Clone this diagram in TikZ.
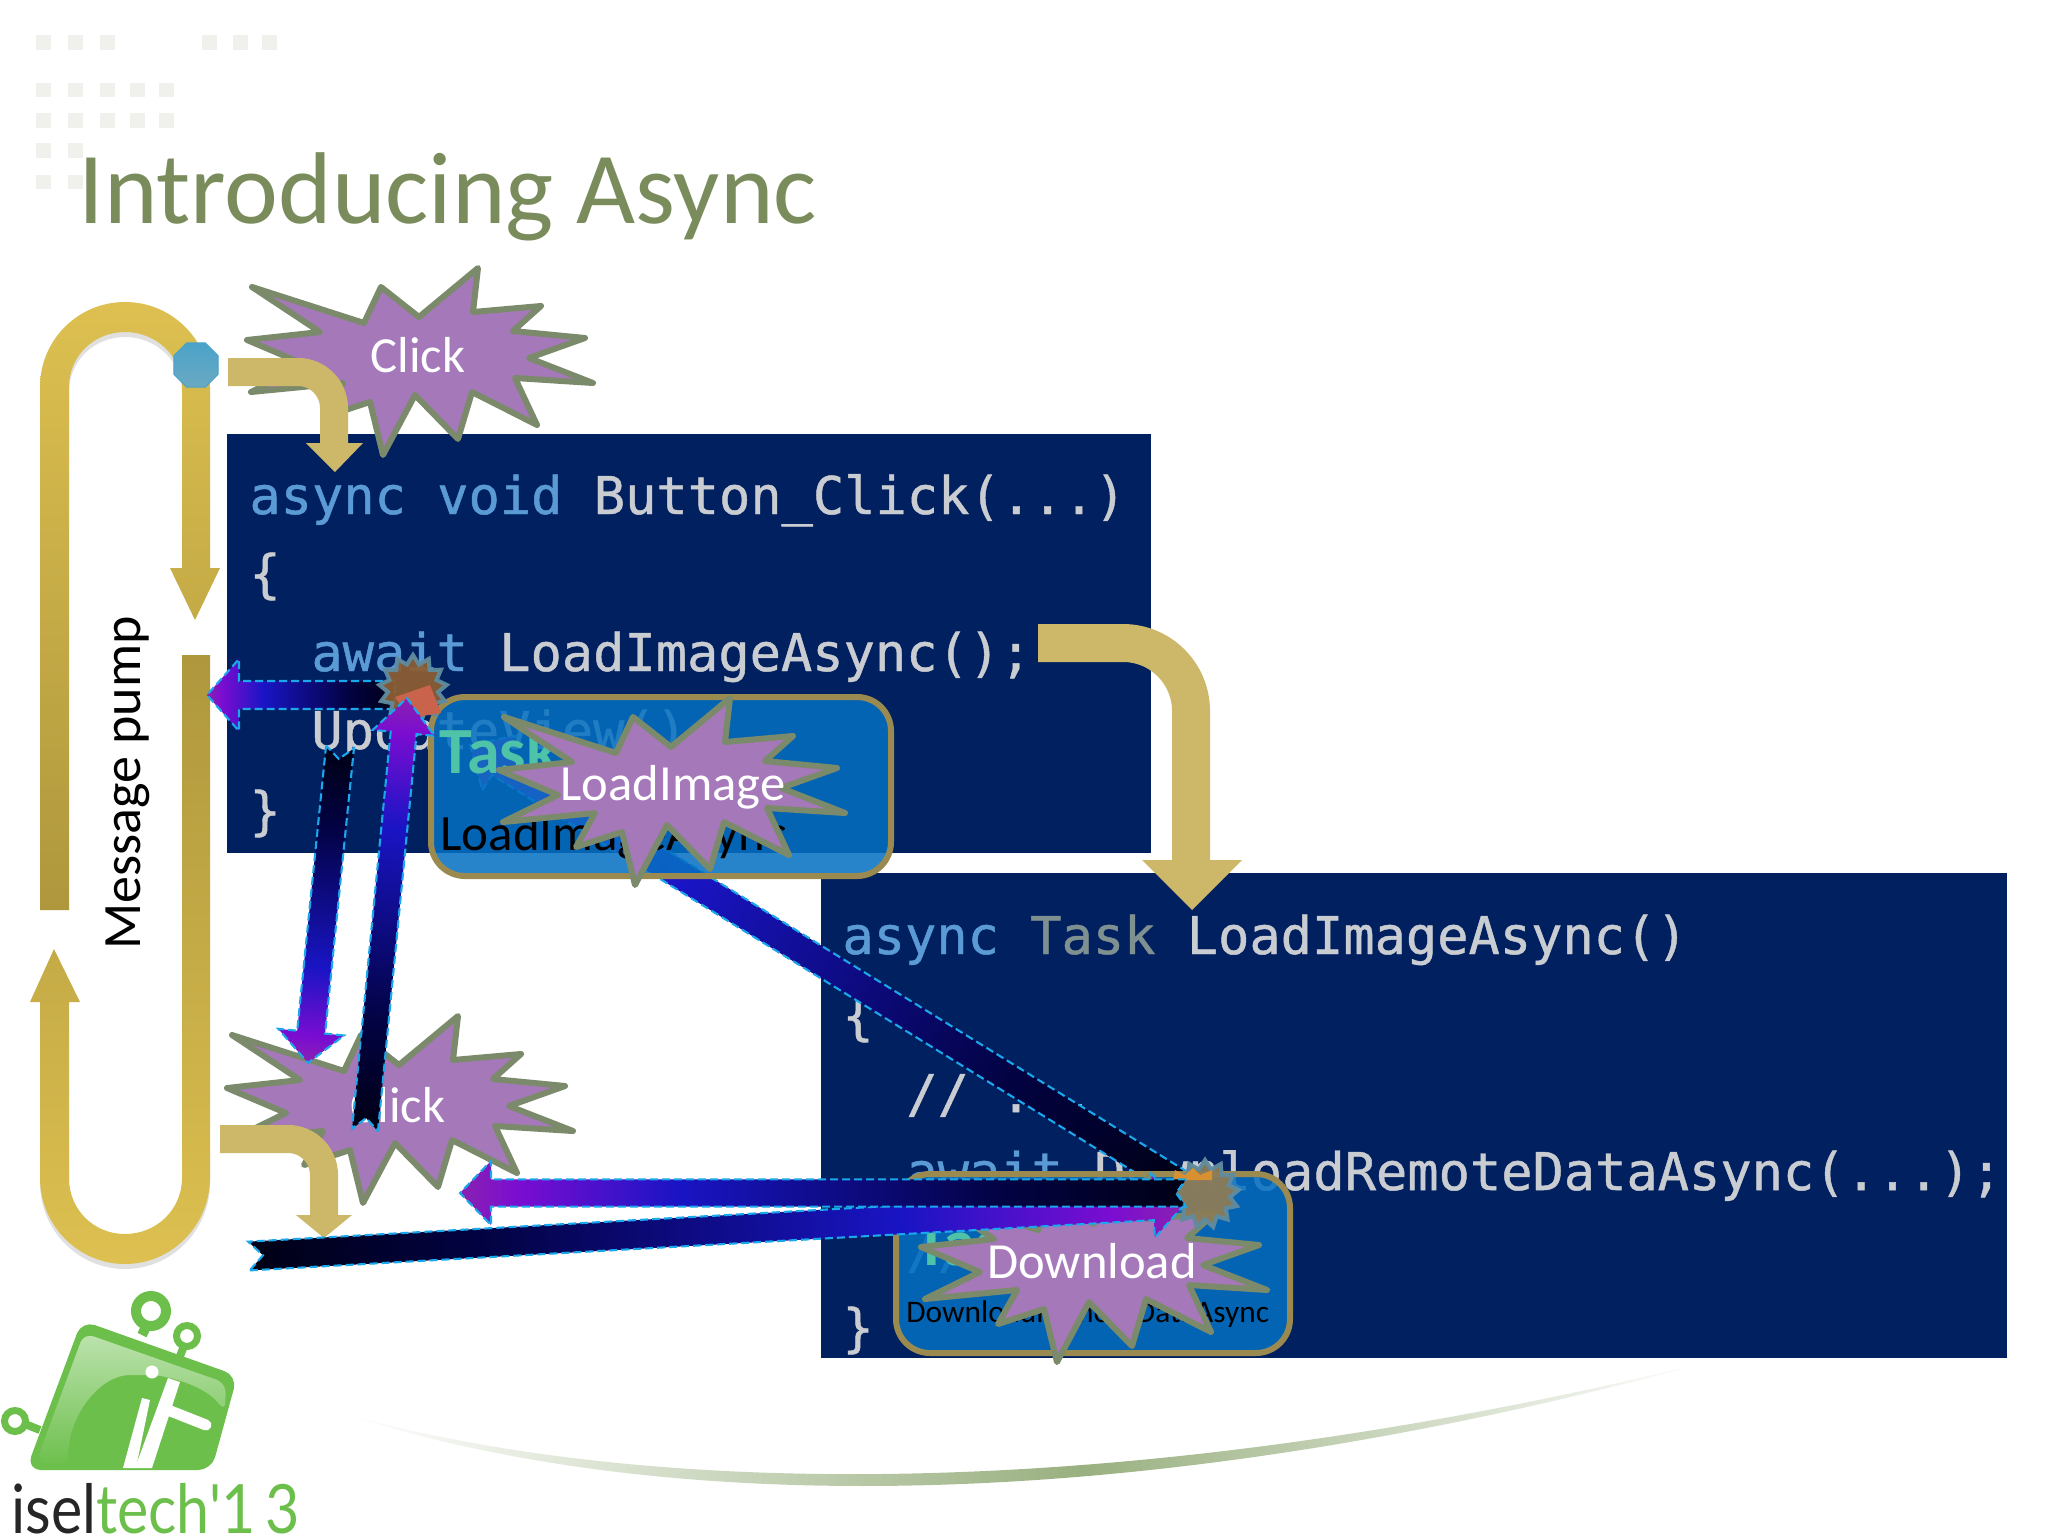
\documentclass[tikz,border=0pt]{standalone}
\usepackage{fontspec}
\setmainfont{Carlito}
\newfontfamily\codefont[FakeBold=0.9]{DejaVu Sans Mono}
\newfontfamily\logofont{Lato}
\usetikzlibrary{calc,shapes.geometric}
\definecolor{navy}{HTML}{002060}
\definecolor{kw}{HTML}{5B9BD5}
\definecolor{codegray}{HTML}{C9CCD0}
\definecolor{typegray}{HTML}{7F9090}
\definecolor{gold}{HTML}{CDB86A}
\definecolor{goldA}{HTML}{DDC050}
\definecolor{goldB}{HTML}{AE973D}
\definecolor{burstfill}{HTML}{A578BA}
\definecolor{burstline}{HTML}{7B8A6A}
\definecolor{boxfill}{HTML}{0570C2}
\definecolor{boxline}{HTML}{9A8A50}
\definecolor{teal}{HTML}{4FC3A8}
\definecolor{titlegreen}{HTML}{7A8C5C}
\definecolor{logogreen}{HTML}{6CBF4B}
\definecolor{cyanline}{HTML}{1AA7EC}
\definecolor{decor}{HTML}{F0F0EC}
\definecolor{dotA}{HTML}{4AA3C9}
\definecolor{dotB}{HTML}{6BA9C2}
\definecolor{sbline}{HTML}{5F8CA0}
\definecolor{sbbrown}{HTML}{8C5E34}
\definecolor{sbred}{HTML}{C9634B}
\definecolor{sbtan}{HTML}{8C7C58}
\definecolor{sborange}{HTML}{D89030}
\pgfdeclarehorizontalshading{flowshade}{100bp}{
  rgb(0bp)=(0,0,0.08);
  rgb(25bp)=(0,0,0.08);
  rgb(38bp)=(0.01,0.01,0.27);
  rgb(60bp)=(0.10,0.08,0.77);
  rgb(71bp)=(0.48,0.05,0.82);
  rgb(75bp)=(0.54,0.13,0.69);
  rgb(100bp)=(0.54,0.13,0.69)}
\pgfdeclarehorizontalshading{swooshshade}{100bp}{
  rgb(0bp)=(1,1,1);
  rgb(25bp)=(1,1,1);
  rgb(52bp)=(0.60,0.69,0.50);
  rgb(75bp)=(1,1,1);
  rgb(100bp)=(1,1,1)}
\tikzset{
  codebox/.style={fill=navy,draw=none},
  codeline/.style={anchor=base west,inner sep=0pt,font=\codefont\fontsize{26}{30}\selectfont,text=codegray},
  goldbend/.style={draw=gold,line width=14pt,rounded corners=18pt},
  goldhead/.style={fill=gold,draw=none},
  burstshape/.style={fill=burstfill,draw=burstline,line width=3pt,line join=round},
  burstlabel/.style={anchor=base,inner sep=0pt,text=white,font=\fontsize{25.3}{28}\selectfont},
  taskbox/.style={fill=boxfill,fill opacity=.86,draw=boxline,line width=3pt,rounded corners=17pt},
  flowline/.style={draw=cyanline,line width=1.05pt,dash pattern=on 4pt off 2pt},
  decorsq/.style={fill=decor,draw=none},
  logoshape/.style={fill=logogreen,draw=none},
  smallburst/.style={star,star points=13,star point ratio=1.35,inner sep=0pt,minimum size=34pt,draw=sbline,line width=2pt}
}
\newcommand\burstat[2]{%
  \begin{scope}[shift={(#1,#2)}]
  \draw[burstshape] (252,287)--(364,323)--(381,287)--(419,317)--(478,268)--(473,312)--(541,306)--(513,331)--(585,338)--(529,358)--(593,383)--(515,378)--(537,425)--(472,392)--(458,439)--(415,395)--(383,455)--(370,402)--(324,417)--(343,383)--(251,392)--(306,365)--(247,340)--(320,332)--cycle;
  \end{scope}}
\newcommand\flow[6]{% tail, tip, shaft hw, head hw, head len, notch (all pt)
  \pgfpointdiff{\pgfpointanchor{#1}{center}}{\pgfpointanchor{#2}{center}}%
  \pgfgetlastxy{\fx}{\fy}%
  \pgfmathsetmacro\flowang{atan2(\fy,\fx)}%
  \pgfmathsetmacro\flowlen{veclen(\fx,\fy)}%
  \pgfmathsetmacro\flowbase{\flowlen-#5}%
  \pgfmathsetmacro\flowhalf{\flowlen/2}%
  \begin{scope}
    \clip[shift={(#1)},rotate=\flowang,x=1pt,y=1pt] (0,-#3)--(\flowbase,-#3)--(\flowbase,-#4)--(\flowlen,0)--(\flowbase,#4)--(\flowbase,#3)--(0,#3)--(#6,0)--cycle;
    \shade[shading=flowshade,shading angle=\flowang] ($(#1)!.5!(#2)$) ++(-\flowhalf pt,-\flowhalf pt) rectangle ++(\flowlen pt,\flowlen pt);
  \end{scope}
  \draw[flowline,shift={(#1)},rotate=\flowang,x=1pt,y=1pt] (0,-#3)--(\flowbase,-#3)--(\flowbase,-#4)--(\flowlen,0)--(\flowbase,#4)--(\flowbase,#3)--(0,#3)--(#6,0)--cycle;}
\begin{document}
\begin{tikzpicture}[x=0.5pt,y=-0.5pt]
\useasboundingbox (0,0) rectangle (2048,1536);
\fill[white] (0,0) rectangle (2048,1536);
% decor squares
\foreach \x in {36,68,100,202,233,262} \fill[decorsq] (\x,35) rectangle ++(15,15);
\foreach \x in {36,68,100,130,159} {\fill[decorsq] (\x,83) rectangle ++(15,14); \fill[decorsq] (\x,113) rectangle ++(15,15);}
\foreach \x in {36,68} {\fill[decorsq] (\x,143) rectangle ++(15,15); \fill[decorsq] (\x,175) rectangle ++(15,14);}
% swoosh
\shade[shading=swooshshade,shading angle=0]
  (348,1415) .. controls (690,1525) and (1180,1507) .. (1707,1362) .. controls (1180,1492) and (690,1508) .. cycle;
% title
\node[anchor=base west,inner sep=0pt,text=titlegreen,font=\fontsize{51}{60}\selectfont] (title) at (78,223) {Introducing Async};
% code boxes
\fill[codebox] (227,434) rectangle (1151,853);
\fill[codebox] (821,873) rectangle (2007,1358);
\node[codeline] (l1) at (249,514) {\textcolor{kw}{async void} Button\_Click(...)};
\node[codeline] (l2) at (249,592) {\{};
\node[codeline] (l3) at (311,671) {\textcolor{kw}{await} LoadImageAsync();};
\node[codeline] (l4) at (311,749) {UpdateView();};
\node[codeline] (l5) at (249,829) {\}};
\node[codeline] (r1) at (842,954) {\textcolor{kw}{async} \textcolor{typegray}{Task} LoadImageAsync()};
\node[codeline] (r2) at (842,1034) {\{};
\node[codeline] (r3) at (906,1112) {// ...};
\node[codeline] (r4) at (906,1190) {\textcolor{kw}{await} DownloadRemoteDataAsync(...);};
\node[codeline,text=kw] (r5) at (906,1268) {//};
\node[codeline] (r6) at (842,1346) {\}};
% message pump loop
\def\upperU{(40,910)--(40,387) .. controls (40,340) and (78,302) .. (125,302) .. controls (172,302) and (210,340) .. (210,387) --(210,568)--(220,568)--(195,620)--(170,568)--(182,568)--(182,387) .. controls (182,356) and (156,332) .. (125,332) .. controls (94,332) and (69,356) .. (69,387) --(69,910)--cycle}
\def\lowerU{(182,655)--(210,655)--(210,1178) .. controls (210,1225) and (172,1264) .. (125,1264) .. controls (78,1264) and (40,1225) .. (40,1178) --(40,1002)--(30,1002)--(54,949)--(80,1002)--(69,1002)--(69,1178) .. controls (69,1210) and (94,1234) .. (125,1234) .. controls (156,1234) and (182,1210) .. (182,1178) --cycle}
\begin{scope}
  \clip (0,296) rectangle (260,420);
  \fill[black,opacity=.12,yshift=-2.5pt] \upperU;
\end{scope}
\begin{scope}
  \clip (0,1150) rectangle (260,1290);
  \fill[black,opacity=.12,yshift=-2.5pt] \lowerU;
\end{scope}
\shade[top color=goldA,bottom color=goldB] \upperU;
\shade[top color=goldB,bottom color=goldA] \lowerU;
\node[rotate=90,anchor=center,inner sep=0pt,font=\fontsize{27}{32}\selectfont] (pump) at (128,783) {Message pump};
% faded arrow under the task box
\coordinate (d4tail) at (1190,1190);
\coordinate (d4tip) at (470,745);
\flow{d4tail}{d4tip}{7}{16}{17}{5}
% task boxes
\draw[taskbox] (431,697) rectangle (891,876);
\node[anchor=base west,inner sep=0pt,text=teal,font=\bfseries\fontsize{33}{36}\selectfont] (task1) at (439,773) {Task};
\node[anchor=base west,inner sep=0pt,text=black,font=\fontsize{25.5}{28}\selectfont] (async1) at (440,850) {LoadImageAsync};
\draw[taskbox] (896,1174) rectangle (1290,1353);
\node[anchor=base west,inner sep=0pt,text=teal,font=\bfseries\fontsize{33}{36}\selectfont] (task2) at (915,1265) {Task};
\node[anchor=base west,inner sep=0pt,text=black,font=\fontsize{15.7}{18}\selectfont] (async2) at (906,1322) {DownloadRemoteDataAsync};
% bursts
\burstat{0}{0}
\node[burstlabel] (click1) at (418,372) {Click};
\burstat{-20}{748}
\node[burstlabel] (click2) at (398,1122) {Click};
\burstat{252}{430}
\node[burstlabel] (load) at (673,800) {LoadImage};
\burstat{674}{907}
\node[burstlabel] (down) at (1092,1278) {Download};
% gold bends
\draw[goldbend] (228,372) -| (334,445);
\fill[goldhead] (306,443)--(363,443)--(335,472)--cycle;
\draw[goldbend] (220,1139) -| (324,1217);
\fill[goldhead] (296,1215)--(352,1215)--(324,1238)--cycle;
\draw[goldbend,line width=19pt,rounded corners=34pt] (1038,643) -| (1191,862);
\fill[goldhead] (1142,860)--(1242,860)--(1192,910)--cycle;
% node
\node[regular polygon,regular polygon sides=8,minimum size=24pt,inner sep=0pt,top color=dotA,bottom color=dotB,draw=dotA,line width=.5pt] (dot) at (196,365) {};
% flow arrows
\coordinate (a1tail) at (395,695); \coordinate (a1tip) at (207,695);
\flow{a1tail}{a1tip}{7}{18}{16}{0}
\node[smallburst,fill=sbbrown,opacity=.95] (sb1) at (413,689) {};
\fill[sbred] (395,697)--(430,685)--(441,713)--(410,718)--cycle;
\coordinate (a2tail) at (340,747); \coordinate (a2tip) at (308,1063);
\flow{a2tail}{a2tip}{7}{16.5}{15.5}{6}
\coordinate (a3tail) at (365,1130); \coordinate (a3tip) at (407,698);
\flow{a3tail}{a3tip}{6.5}{15.5}{17.5}{6}
\node[smallburst,fill=sbtan,opacity=.95] (sb2) at (1205,1194) {};
\fill[sborange] (1173,1180)--(1175,1170)--(1185,1175)--(1193,1168)--(1200,1175)--(1212,1170)--(1212,1180)--cycle;
\coordinate (a6tail) at (249,1256); \coordinate (a6tip) at (1185,1204);
\flow{a6tail}{a6tip}{7.2}{16}{16}{7}
\coordinate (a5tail) at (1186,1193); \coordinate (a5tip) at (460,1193);
\flow{a5tail}{a5tip}{6.8}{16}{15.5}{5}
% logo
\draw[logoshape,draw=logogreen,line width=2pt,line join=round,rounded corners=6pt] (83,1323)--(235,1377)--(210,1468)--(29,1468)--cycle;
\shade[top color=white!55!logogreen,bottom color=logogreen,rounded corners=5pt] (84,1333)--(226,1383)--(225,1412) .. controls (205,1385) and (165,1375) .. (140,1375) .. controls (100,1375) and (68,1415) .. (68,1467)--(36,1462)--cycle;
\fill[white] (123,1468)--(142,1398)--(150,1400)--(136,1468)--cycle;
\fill[white] (152,1372) circle (6.5);
\fill[white] (135,1468)--(168,1378)--(180,1382)--(152,1468)--cycle;
\draw[white,line width=5.5pt,line cap=round] (168,1410)--(206,1425);
\draw[logogreen,line width=5pt] (151,1311) circle (15);
\draw[logogreen,line width=5pt] (142,1335)--(147,1325);
\draw[logogreen,line width=3.5pt] (187,1336) circle (10.5);
\draw[logogreen,line width=4pt] (180,1356)--(184,1346);
\draw[logogreen,line width=3.5pt] (15,1421) circle (10.5);
\draw[logogreen,line width=4pt] (25,1424)--(40,1430);
\node[anchor=base west,inner sep=0pt,xscale=.87,transform shape,font=\logofont\fontsize{34}{36}\selectfont] (logo) at (11,1533) {\textcolor{black!85}{isel}\textcolor{logogreen}{tech'1\,3}};
\end{tikzpicture}
\end{document}
